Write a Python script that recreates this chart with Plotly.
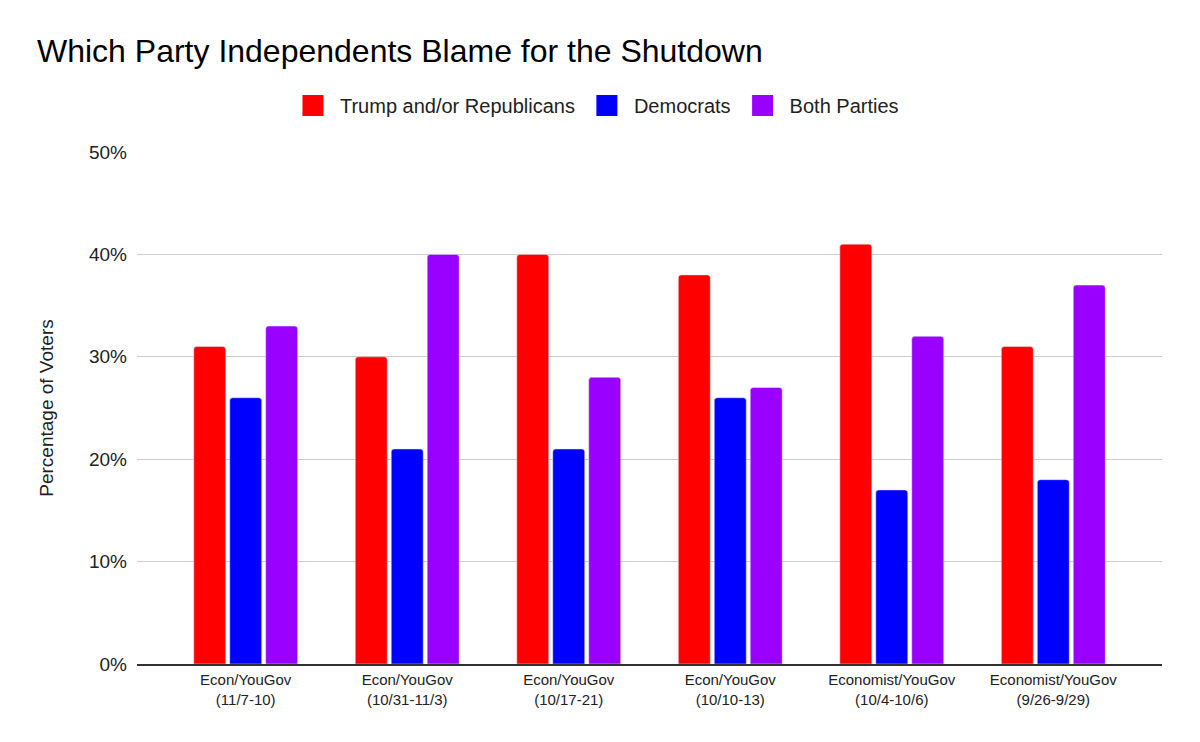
import plotly.graph_objects as go

categories = ["Econ/YouGov<br>(11/7-10)", "Econ/YouGov<br>(10/31-11/3)", "Econ/YouGov<br>(10/17-21)",
              "Econ/YouGov<br>(10/10-13)", "Economist/YouGov<br>(10/4-10/6)", "Economist/YouGov<br>(9/26-9/29)"]
series_names = ["Trump and/or Republicans", "Democrats", "Both Parties"]
republicans = [31, 30, 40, 38, 41, 31]
democrats = [26, 21, 21, 26, 17, 18]
both = [33, 40, 28, 27, 32, 37]
colors = ["#ff0000", "#0000ff", "#9900ff"]
tick_vals = [0, 10, 20, 30, 40, 50]
tick_text = ["0%", "10%", "20%", "30%", "40%", "50%"]

fig = go.Figure()
for name, vals, col in zip(series_names, [republicans, democrats, both], colors):
    fig.add_bar(x=categories, y=vals, name=name, marker_color=col, showlegend=False)
# legend-only entries with larger square symbols
for name, col in zip(series_names, colors):
    fig.add_scatter(x=[None], y=[None], mode="markers", name=name,
                    marker=dict(symbol="square", size=16, color=col, line=dict(color=col, width=5)))

fig.update_layout(
    width=1200, height=742,
    barmode="group", bargap=0.332, bargroupgap=0.111, barcornerradius=3,
    plot_bgcolor="white", paper_bgcolor="white",
    font=dict(family="Liberation Sans, Arial, sans-serif", color="#000000"),
    title=dict(text="Which Party Independents Blame for the Shutdown", x=29 / 1200, xanchor="left",
               y=0.942, yanchor="middle", font=dict(size=32, color="#000000")),
    legend=dict(orientation="h", x=0.4468, xanchor="center", y=1.0908, yanchor="middle",
                font=dict(size=20, color="#222222"), traceorder="normal", itemsizing="trace",
                itemwidth=44),
    margin=dict(l=129, r=46, t=144, b=86),
    hovermode=False,
)
fig.update_yaxes(range=[0, 50], tickvals=tick_vals, ticktext=tick_text, showgrid=True,
                 gridcolor="#cccccc", gridwidth=1, zeroline=False, showline=False,
                 tickfont=dict(size=19, color="#222222"), ticks="", ticklabelstandoff=9,
                 title=dict(text="Percentage of Voters", font=dict(size=19, color="#222222"), standoff=30))
fig.update_xaxes(range=[-0.673, 5.673], showline=True, linecolor="#333333", linewidth=2, ticks="",
                 tickfont=dict(size=15, color="#222222"), ticklabelstandoff=1, tickangle=0)

fig.write_html("out.html")
